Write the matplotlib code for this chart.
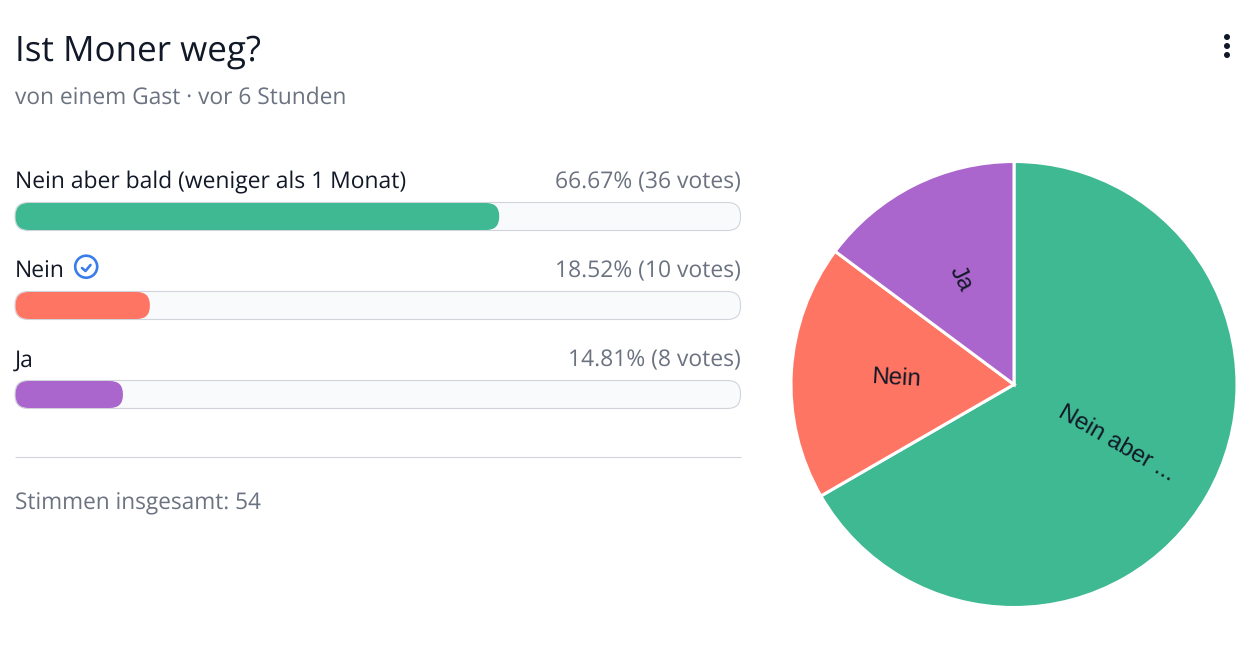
import numpy as np
import matplotlib
matplotlib.use("Agg")
import matplotlib.pyplot as plt
from matplotlib.patches import FancyBboxPatch, Circle

options = ["Nein aber bald (weniger als 1 Monat)", "Nein", "Ja"]
pie_labels = ["Nein aber ...", "Nein", "Ja"]
votes = [36, 10, 8]
percents = [66.67, 18.52, 14.81]
colors = ["#3eb991", "#ff7563", "#aa66cc"]

plt.rcParams["font.family"] = ["Open Sans", "DejaVu Sans"]
plt.rcParams["text.hinting"] = "none"
DARK = "#111827"
GREY = "#6b7280"
BORDER = "#d1d5db"

fig = plt.figure(figsize=(12.57, 6.55), dpi=100, facecolor="white")

# axes in screen pixels, y pointing down
ax = fig.add_axes([0, 0, 1, 1])
ax.set_xlim(0, 1257)
ax.set_ylim(655, 0)
ax.axis("off")

ax.text(15, 52, "Ist Moner weg?", fontsize=25.2, color=DARK, va="center")
ax.text(15, 98, "von einem Gast · vor 6 Stunden", fontsize=16.35, color=GREY, va="center")

# menu dots
for y in [37, 46, 55]:
    ax.add_patch(Circle((1227, y), 3, color=DARK, lw=0))

left, right = 15, 740.5
track_w = right - left
tops = [202.5, 291.5, 380.5]
for name, n, pct, col, top in zip(options, votes, percents, colors, tops):
    ax.text(left, top - 20, name, fontsize=16.5, color=DARK, va="center")
    ax.text(right, top - 20, f"{pct:.2f}% ({n} votes)", fontsize=16.45, color=GREY,
            va="center", ha="right")
    ax.add_patch(FancyBboxPatch((left, top), track_w, 28,
                                boxstyle="round,pad=0,rounding_size=13",
                                fc="#f9fafb", ec=BORDER, lw=0.8))
    ax.add_patch(FancyBboxPatch((left + 0.5, top + 0.5), track_w * pct / 100, 27,
                                boxstyle="round,pad=0,rounding_size=13",
                                fc=col, ec="none"))

# check icon next to the right answer
ax.add_patch(Circle((86.2, 266.7), 11, fc="none", ec="#3b7de8", lw=1.9))
ax.plot([82, 85.5, 90.5], [268, 271, 265], color="#3b7de8", lw=1.9,
        solid_capstyle="round", solid_joinstyle="round")

ax.plot([left, right], [457, 457], color=BORDER, lw=0.8, solid_capstyle="butt")
ax.text(left, 504, f"Stimmen insgesamt: {sum(votes)}", fontsize=16.3, color=GREY, va="center")

# pie
cx, cy, r = 1014, 384.5, 223
pad = 1.02
ax2 = fig.add_axes([(cx - r * pad) / 1257, (655 - cy - r * pad) / 655,
                    2 * r * pad / 1257, 2 * r * pad / 655])
wedges, texts = ax2.pie(votes, colors=colors, labels=pie_labels, startangle=90,
                        counterclock=False, labeldistance=0.53,
                        wedgeprops={"edgecolor": "white", "linewidth": 2.2},
                        textprops={"fontsize": 17.3, "color": DARK})
ax2.set_xlim(-pad, pad)
ax2.set_ylim(-pad, pad)
for w, t in zip(wedges, texts):
    mid = (w.theta1 + w.theta2) / 2
    rot = mid if np.cos(np.radians(mid)) > 0 else mid - 180
    t.set_family(["Liberation Sans"])
    t.set_rotation(rot)
    t.set_rotation_mode("anchor")
    t.set_ha("center")
    t.set_va("center")

fig.savefig("out.png", dpi=100)
